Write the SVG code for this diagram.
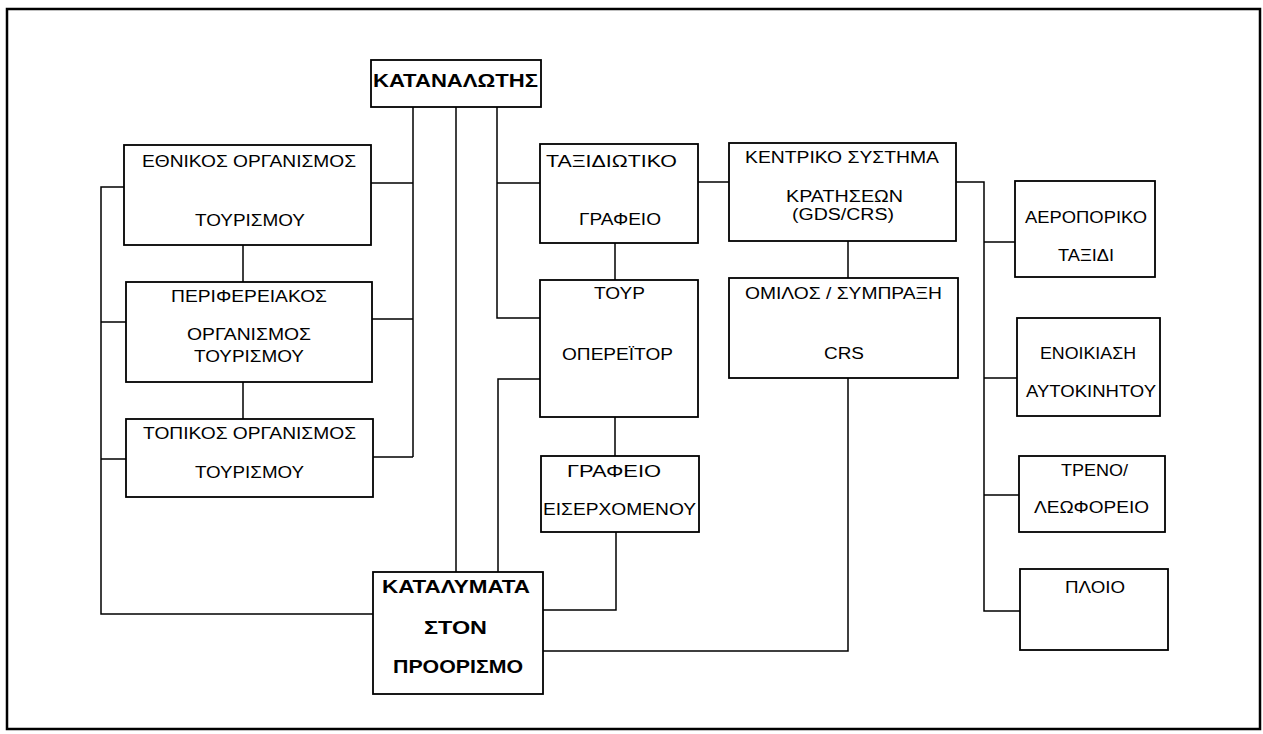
<svg xmlns="http://www.w3.org/2000/svg" width="1263" height="734" viewBox="0 0 1263 734">
<style>
.frame{fill:none;stroke:#000;stroke-width:2.5}
.box{fill:#fff;stroke:#000;stroke-width:1.8}
.c{fill:none;stroke:#000;stroke-width:1.5}
text{font-family:"Liberation Sans",Arial,sans-serif;font-size:16px;fill:#000}
.b{font-weight:bold;font-size:18px}
</style>
<rect width="1263" height="734" fill="#fff"/>
<rect class="frame" x="7" y="9" width="1253" height="720"/>
<g id="connectors">
<path class="c" d="M413 107V457M371 183H413M372 319H413M373 457H413"/>
<path class="c" d="M456 107V572"/>
<path class="c" d="M497 107V318H540M497 183H540"/>
<path class="c" d="M540 379H498V572"/>
<path class="c" d="M124 187H101V614H373M101 322H126M101 459H126"/>
<path class="c" d="M243 245V282M243 382V419"/>
<path class="c" d="M615 243V280M615 417V456"/>
<path class="c" d="M616 532V610H543"/>
<path class="c" d="M848 378V651H543M848 241V278"/>
<path class="c" d="M698 182H729"/>
<path class="c" d="M956 182H984V611H1020M984 242H1015M984 378H1017M984 495H1019"/>
</g>
<g id="n-consumer"><rect class="box" x="371" y="60" width="170" height="47"/><text class="b" x="373" y="87" textLength="165" lengthAdjust="spacingAndGlyphs">ΚΑΤΑΝΑΛΩΤΗΣ</text></g>
<g id="n-eot"><rect class="box" x="124" y="145" width="247" height="100"/><text x="142" y="167" textLength="214" lengthAdjust="spacingAndGlyphs">ΕΘΝΙΚΟΣ ΟΡΓΑΝΙΣΜΟΣ</text><text x="195" y="226" textLength="110" lengthAdjust="spacingAndGlyphs">ΤΟΥΡΙΣΜΟΥ</text></g>
<g id="n-regional"><rect class="box" x="126" y="282" width="246" height="100"/><text x="171" y="302" textLength="156" lengthAdjust="spacingAndGlyphs">ΠΕΡΙΦΕΡΕΙΑΚΟΣ</text><text x="187" y="340" textLength="124" lengthAdjust="spacingAndGlyphs">ΟΡΓΑΝΙΣΜΟΣ</text><text x="194" y="362" textLength="110" lengthAdjust="spacingAndGlyphs">ΤΟΥΡΙΣΜΟΥ</text></g>
<g id="n-local"><rect class="box" x="126" y="419" width="247" height="78"/><text x="143" y="439" textLength="213" lengthAdjust="spacingAndGlyphs">ΤΟΠΙΚΟΣ ΟΡΓΑΝΙΣΜΟΣ</text><text x="195" y="478" textLength="109" lengthAdjust="spacingAndGlyphs">ΤΟΥΡΙΣΜΟΥ</text></g>
<g id="n-agency"><rect class="box" x="540" y="144" width="158" height="99"/><text x="546" y="167" textLength="131" lengthAdjust="spacingAndGlyphs">ΤΑΞΙΔΙΩΤΙΚΟ</text><text x="579" y="225" textLength="82" lengthAdjust="spacingAndGlyphs">ΓΡΑΦΕΙΟ</text></g>
<g id="n-tour"><rect class="box" x="540" y="280" width="158" height="137"/><text x="594" y="299" textLength="51" lengthAdjust="spacingAndGlyphs">ΤΟΥΡ</text><text x="562" y="360" textLength="111" lengthAdjust="spacingAndGlyphs">ΟΠΕΡΕΪΤΟΡ</text></g>
<g id="n-incoming"><rect class="box" x="541" y="456" width="158" height="76"/><text x="567" y="477" textLength="94" lengthAdjust="spacingAndGlyphs">ΓΡΑΦΕΙΟ</text><text x="543" y="515" textLength="153" lengthAdjust="spacingAndGlyphs">ΕΙΣΕΡΧΟΜΕΝΟΥ</text></g>
<g id="n-accommodation"><rect class="box" x="373" y="572" width="170" height="122"/><text class="b" x="382" y="593" textLength="148" lengthAdjust="spacingAndGlyphs">ΚΑΤΑΛΥΜΑΤΑ</text><text class="b" x="424" y="634" textLength="63" lengthAdjust="spacingAndGlyphs">ΣΤΟΝ</text><text class="b" x="393" y="673" textLength="130" lengthAdjust="spacingAndGlyphs">ΠΡΟΟΡΙΣΜΟ</text></g>
<g id="n-gds"><rect class="box" x="729" y="143" width="227" height="98"/><text x="745" y="163" textLength="194" lengthAdjust="spacingAndGlyphs">ΚΕΝΤΡΙΚΟ ΣΥΣΤΗΜΑ</text><text x="786" y="202" textLength="117" lengthAdjust="spacingAndGlyphs">ΚΡΑΤΗΣΕΩΝ</text><text x="792" y="220" textLength="102" lengthAdjust="spacingAndGlyphs">(GDS/CRS)</text></g>
<g id="n-crs"><rect class="box" x="729" y="278" width="229" height="100"/><text x="745" y="299" textLength="197" lengthAdjust="spacingAndGlyphs">ΟΜΙΛΟΣ / ΣΥΜΠΡΑΞΗ</text><text x="824" y="359" textLength="40" lengthAdjust="spacingAndGlyphs">CRS</text></g>
<g id="n-air"><rect class="box" x="1015" y="181" width="140" height="96"/><text x="1025" y="223" textLength="122" lengthAdjust="spacingAndGlyphs">ΑΕΡΟΠΟΡΙΚΟ</text><text x="1058" y="261" textLength="56" lengthAdjust="spacingAndGlyphs">ΤΑΞΙΔΙ</text></g>
<g id="n-car"><rect class="box" x="1017" y="318" width="143" height="98"/><text x="1040" y="359" textLength="96" lengthAdjust="spacingAndGlyphs">ΕΝΟΙΚΙΑΣΗ</text><text x="1026" y="397" textLength="130" lengthAdjust="spacingAndGlyphs">ΑΥΤΟΚΙΝΗΤΟΥ</text></g>
<g id="n-train"><rect class="box" x="1019" y="456" width="146" height="76"/><text x="1061" y="476" textLength="67" lengthAdjust="spacingAndGlyphs">ΤΡΕΝΟ/</text><text x="1034" y="513" textLength="115" lengthAdjust="spacingAndGlyphs">ΛΕΩΦΟΡΕΙΟ</text></g>
<g id="n-ship"><rect class="box" x="1020" y="569" width="148" height="81"/><text x="1065" y="593" textLength="60" lengthAdjust="spacingAndGlyphs">ΠΛΟΙΟ</text></g>
</svg>
